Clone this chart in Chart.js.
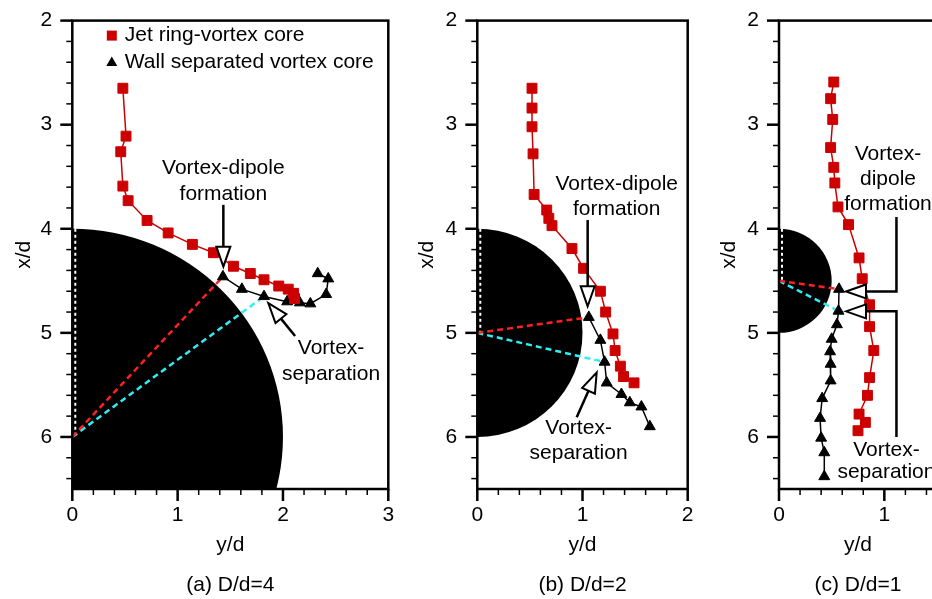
<!DOCTYPE html>
<html>
<head>
<meta charset="utf-8">
<script src="https://cdn.jsdelivr.net/npm/chart.js@4"></script>
<style>
    html, body { margin: 0; padding: 0; background: #fff; overflow: hidden; width: 932px; height: 599px; }
    canvas { position: absolute; top: 0; }
</style>
</head>
<body>
<canvas id="chartA" width="420" height="599" style="left:0px"></canvas>
<canvas id="chartB" width="310" height="599" style="left:400px"></canvas>
<canvas id="chartC" width="260" height="599" style="left:700px"></canvas>
<script>
// Cylinder diameter ratios and panel captions
const diameterRatios = [4, 2, 1];
const panelCaptions = ['(a) D/d=4', '(b) D/d=2', '(c) D/d=1'];
const yTickMax = [3, 2, 1.5];

// (a) D/d=4 : jet ring-vortex core (y/d, x/d)
const jetA_y = [0.48, 0.51, 0.46, 0.48, 0.53, 0.71, 0.91, 1.14, 1.34, 1.53, 1.69, 1.82, 1.96, 2.05, 2.10, 2.11];
const jetA_x = [2.65, 3.11, 3.26, 3.59, 3.73, 3.92, 4.04, 4.15, 4.23, 4.36, 4.43, 4.49, 4.55, 4.58, 4.62, 4.67];
// (a) wall separated vortex core
const wallA_y = [1.43, 1.61, 1.82, 2.04, 2.16, 2.26, 2.41, 2.43, 2.33];
const wallA_x = [4.46, 4.58, 4.65, 4.70, 4.71, 4.72, 4.63, 4.48, 4.43];

// (b) D/d=2
const jetB_y = [0.52, 0.52, 0.52, 0.53, 0.54, 0.66, 0.68, 0.71, 0.90, 1.01, 1.17, 1.22, 1.29, 1.31, 1.36, 1.39, 1.49];
const jetB_x = [2.65, 2.84, 3.02, 3.28, 3.67, 3.82, 3.90, 3.97, 4.19, 4.38, 4.60, 4.80, 5.01, 5.17, 5.32, 5.42, 5.48];
const wallB_y = [1.06, 1.17, 1.21, 1.23, 1.37, 1.45, 1.56, 1.64];
const wallB_x = [4.85, 5.07, 5.28, 5.48, 5.59, 5.67, 5.71, 5.90];

// (c) D/d=1
const jetC_y = [0.52, 0.49, 0.51, 0.49, 0.52, 0.53, 0.56, 0.66, 0.76, 0.79, 0.86, 0.86, 0.90, 0.86, 0.84, 0.76, 0.82, 0.75];
const jetC_x = [2.59, 2.75, 2.95, 3.22, 3.41, 3.56, 3.79, 3.96, 4.28, 4.48, 4.73, 4.94, 5.17, 5.43, 5.60, 5.78, 5.86, 5.94];
const wallC_y = [0.57, 0.565, 0.55, 0.50, 0.485, 0.49, 0.49, 0.41, 0.39, 0.40, 0.43, 0.43];
const wallC_x = [4.58, 4.79, 4.92, 5.06, 5.18, 5.30, 5.46, 5.63, 5.82, 6.01, 6.15, 6.38];

// index of the wall core where separation happens
const separationIndex = [2, 2, 1];

Chart.defaults.font.family = '"Liberation Sans", Arial, sans-serif';
Chart.defaults.font.size = 21;
Chart.defaults.color = '#000';

const FONT = '21px "Liberation Sans", Arial, sans-serif';

function px(chart, p) {
    return [chart.scales.x.getPixelForValue(p[0]), chart.scales.y.getPixelForValue(p[1])];
}

// open-headed arrow along a polyline, last point is the tip
function drawArrow(ctx, pts, headLen, headHalf) {
    const n = pts.length;
    const tip = pts[n - 1], prev = pts[n - 2];
    const dx = tip[0] - prev[0], dy = tip[1] - prev[1];
    const len = Math.hypot(dx, dy);
    const ux = dx / len, uy = dy / len;
    const base = [tip[0] - ux * headLen, tip[1] - uy * headLen];

    ctx.strokeStyle = '#000';
    ctx.lineWidth = 2.5;
    ctx.beginPath();
    ctx.moveTo(pts[0][0], pts[0][1]);
    for (let i = 1; i < n - 1; i++) ctx.lineTo(pts[i][0], pts[i][1]);
    ctx.lineTo(base[0], base[1]);
    ctx.stroke();

    ctx.lineWidth = 2;
    ctx.fillStyle = '#fff';
    ctx.beginPath();
    ctx.moveTo(tip[0], tip[1]);
    ctx.lineTo(base[0] - uy * headHalf, base[1] + ux * headHalf);
    ctx.lineTo(base[0] + uy * headHalf, base[1] - ux * headHalf);
    ctx.closePath();
    ctx.fill();
    ctx.stroke();
}

const decorPlugin = {
    id: 'decor',
    beforeDatasetsDraw(chart, args, opts) {
        const { ctx, chartArea: ca, scales: { x, y } } = chart;
        ctx.save();
        ctx.beginPath();
        ctx.rect(ca.left, ca.top, ca.right - ca.left, ca.bottom - ca.top);
        ctx.clip();

        // cylinder cross-section
        const cx = x.getPixelForValue(0), cy = y.getPixelForValue(opts.center);
        const rx = x.getPixelForValue(opts.radius) - cx;
        const ry = Math.abs(y.getPixelForValue(opts.center - opts.radius) - cy);
        ctx.fillStyle = '#000';
        ctx.beginPath();
        ctx.ellipse(cx, cy, rx, ry, 0, 0, Math.PI * 2);
        ctx.fill();

        // white dotted symmetry line
        ctx.strokeStyle = '#fff';
        ctx.lineWidth = 2;
        ctx.setLineDash([3, 3]);
        ctx.beginPath();
        ctx.moveTo(cx + 3, y.getPixelForValue(opts.center - opts.radius));
        ctx.lineTo(cx + 3, cy);
        ctx.stroke();
        ctx.restore();
    },
    afterDatasetsDraw(chart, args, opts) {
        const ctx = chart.ctx;
        ctx.save();
        ctx.font = FONT;
        ctx.fillStyle = '#000';
        ctx.textAlign = 'center';
        ctx.textBaseline = 'middle';
        opts.labels.forEach(l => {
            const p = px(chart, l.at);
            ctx.fillText(l.text, p[0], p[1]);
        });
        opts.arrows.forEach(a => drawArrow(ctx, a.map(p => px(chart, p)), 20, 7));
        ctx.restore();
    },
    afterDraw(chart, args, opts) {
        const { ctx, chartArea: ca, scales: { x, y } } = chart;
        ctx.save();
        ctx.strokeStyle = '#000';

        // frame
        ctx.lineWidth = 2.5;
        ctx.strokeRect(ca.left, ca.top, ca.right - ca.left, ca.bottom - ca.top);

        // outward ticks, minor every 0.2
        for (let i = 0; 2 + i * 0.2 <= 6.5 + 1e-9; i++) {
            const v = 2 + i * 0.2;
            const major = Math.abs(v - Math.round(v)) < 1e-6;
            const py = y.getPixelForValue(v);
            ctx.lineWidth = major ? 2.5 : 1.5;
            ctx.beginPath();
            ctx.moveTo(ca.left - (major ? 12 : 6), py);
            ctx.lineTo(ca.left, py);
            ctx.stroke();
        }
        for (let i = 0; i * 0.2 <= opts.xMax + 1e-9; i++) {
            const v = i * 0.2;
            const major = Math.abs(v - Math.round(v)) < 1e-6;
            const pxv = x.getPixelForValue(v);
            ctx.lineWidth = major ? 2.5 : 1.5;
            ctx.beginPath();
            ctx.moveTo(pxv, ca.bottom);
            ctx.lineTo(pxv, ca.bottom + (major ? 12 : 6));
            ctx.stroke();
        }

        // caption
        ctx.font = '21px "Liberation Sans", Arial, sans-serif';
        ctx.fillStyle = '#000';
        ctx.textAlign = 'center';
        ctx.textBaseline = 'middle';
        ctx.fillText(opts.caption, (ca.left + ca.right) / 2, 585);

        // legend (first panel only)
        if (opts.legend) {
            const lx = ca.left + 39.5, ly = ca.top + 15;
            ctx.fillStyle = '#cc0000';
            ctx.fillRect(lx - 5, ly - 5, 10, 10);
            ctx.fillStyle = '#000';
            ctx.beginPath();
            ctx.moveTo(lx, ly + 27 - 6);
            ctx.lineTo(lx + 5.5, ly + 27 + 3.5);
            ctx.lineTo(lx - 5.5, ly + 27 + 3.5);
            ctx.closePath();
            ctx.fill();
            ctx.font = FONT;
            ctx.textAlign = 'left';
            ctx.fillText('Jet ring-vortex core', lx + 13, ly);
            ctx.fillText('Wall separated vortex core', lx + 13, ly + 27);
        }
        ctx.restore();
    }
};

function makeDatasets(jy, jx, wy, wx, center, sepIdx) {
    const pts = (ys, xs) => ys.map((v, i) => ({ x: v, y: xs[i] }));
    return [
        {
            label: 'Jet ring-vortex core',
            data: pts(jy, jx),
            showLine: true,
            borderColor: '#cc0000',
            borderWidth: 1.5,
            pointStyle: 'rect',
            pointRadius: 7,
            pointBackgroundColor: '#cc0000',
            pointBorderColor: '#cc0000',
            pointBorderWidth: 1
        },
        {
            label: 'Wall separated vortex core',
            data: pts(wy, wx),
            showLine: true,
            borderColor: '#000',
            borderWidth: 1.5,
            pointStyle: 'triangle',
            pointRadius: 6.3,
            pointBackgroundColor: '#000',
            pointBorderColor: '#000',
            pointBorderWidth: 1
        },
        {
            label: 'dipole',
            data: [{ x: 0, y: center }, { x: wy[0], y: wx[0] }],
            showLine: true,
            borderColor: '#ff2020',
            borderWidth: 2.5,
            borderDash: [6, 4],
            pointRadius: 0
        },
        {
            label: 'separation',
            data: [{ x: 0, y: center }, { x: wy[sepIdx], y: wx[sepIdx] }],
            showLine: true,
            borderColor: '#2eeef4',
            borderWidth: 2.5,
            borderDash: [6, 4],
            pointRadius: 0
        }
    ];
}

function makeChart(id, k, jy, jx, wy, wx, layout) {
    const radius = diameterRatios[k] / 2;
    const center = 4 + radius;
    const tickFont = { size: 21 };
    return new Chart(document.getElementById(id), {
        type: 'scatter',
        data: { datasets: makeDatasets(jy, jx, wy, wx, center, separationIndex[k]) },
        plugins: [decorPlugin],
        options: {
            responsive: false,
            animation: false,
            events: [],
            layout: { padding: { left: 0, right: layout.padRight, top: 17, bottom: 41 } },
            plugins: {
                legend: { display: false },
                tooltip: { enabled: false },
                decor: {
                    center: center,
                    radius: radius,
                    xMax: yTickMax[k],
                    caption: panelCaptions[k],
                    legend: k === 0,
                    labels: layout.labels,
                    arrows: layout.arrows
                }
            },
            scales: {
                x: {
                    type: 'linear',
                    position: 'bottom',
                    min: 0,
                    max: yTickMax[k],
                    afterFit(s) { s.height = 69; },
                    ticks: { stepSize: 1, includeBounds: false, autoSkip: false, maxRotation: 0, padding: 2, color: '#000', font: tickFont },
                    grid: { color: 'transparent', drawTicks: true, tickLength: 12 },
                    border: { display: false },
                    title: { display: true, text: 'y/d', color: '#000', font: tickFont, padding: { top: 0, bottom: 0 } }
                },
                y: {
                    type: 'linear',
                    reverse: true,
                    min: 2,
                    max: 6.5,
                    afterFit(s) { s.width = layout.axisW; },
                    ticks: { stepSize: 1, includeBounds: false, autoSkip: false, padding: 8, color: '#000', font: tickFont },
                    grid: { color: 'transparent', drawTicks: true, tickLength: 12 },
                    border: { display: false },
                    title: { display: true, text: 'x/d', color: '#000', font: tickFont, padding: { top: layout.titlePad, bottom: 0 } }
                }
            }
        }
    });
}

// annotation positions are given in axis units (y/d, x/d)
makeChart('chartA', 0, jetA_y, jetA_x, wallA_y, wallA_x, {
    axisW: 72.3, padRight: 31.7, titlePad: 12,
    labels: [
        { text: 'Vortex-dipole', at: [1.434, 3.42] },
        { text: 'formation', at: [1.434, 3.67] },
        { text: 'Vortex-', at: [2.457, 5.143] },
        { text: 'separation', at: [2.457, 5.394] }
    ],
    arrows: [
        [[1.434, 3.77], [1.434, 4.364]],
        [[2.115, 5.03], [1.861, 4.714]]
    ]
});

makeChart('chartB', 1, jetB_y, jetB_x, wallB_y, wallB_x, {
    axisW: 77.3, padRight: 22.3, titlePad: 15,
    labels: [
        { text: 'Vortex-dipole', at: [1.325, 3.57] },
        { text: 'formation', at: [1.325, 3.808] },
        { text: 'Vortex-', at: [0.963, 5.918] },
        { text: 'separation', at: [0.963, 6.153] }
    ],
    arrows: [
        [[1.049, 3.916], [1.049, 4.745]],
        [[0.945, 5.81], [1.135, 5.381]]
    ]
});

makeChart('chartC', 2, jetC_y, jetC_x, wallC_y, wallC_x, {
    axisW: 79, padRight: 23, titlePad: 17,
    labels: [
        { text: 'Vortex-', at: [1.035, 3.284] },
        { text: 'dipole', at: [1.035, 3.522] },
        { text: 'formation', at: [1.035, 3.761] },
        { text: 'Vortex-', at: [1.02, 6.128] },
        { text: 'separation', at: [1.02, 6.335] }
    ],
    arrows: [
        [[1.115, 3.888], [1.115, 4.602], [0.636, 4.602]],
        [[1.115, 6.0], [1.115, 4.793], [0.636, 4.793]]
    ]
});
</script>
</body>
</html>
